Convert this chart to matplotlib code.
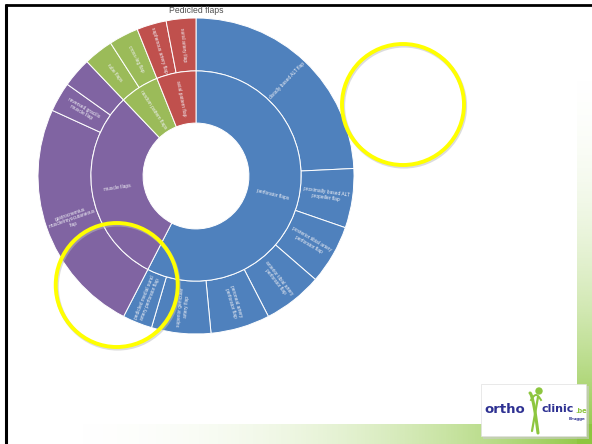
import numpy as np
import matplotlib
matplotlib.use("Agg")
import matplotlib.pyplot as plt
from matplotlib.patches import Ellipse, Rectangle, Circle

# ---------------- data ----------------
inner_labels = ["perforator flaps", "muscle flaps", "random pattern flaps", "axial pattern flap"]
inner_colors = ["#4F81BD", "#8064A2", "#9BBB59", "#C0504D"]

outer_labels = [
    "distally based ALT flap",
    "proximally based ALT\npropeller flap",
    "posterior tibial artery\nperforator flap",
    "anterior tibial artery\nperforator flap",
    "peroneal artery\nperforator flap",
    "superior genicular\nartery flap",
    "pedicled medial sural\nartery perforator flap",
    "gastrocnemius\nmuscle/myocutaneous\nflap",
    "reversed gracilis\nmuscle flap",
    "",
    "tube flaps",
    "cross-leg flap",
    "saphenous artery flap",
    "sural artery flap",
]
outer_values = [8, 2, 2, 2, 2, 2, 1, 8, 1, 1, 1, 1, 1, 1]
outer_parent = [0, 0, 0, 0, 0, 0, 0, 1, 1, 1, 2, 2, 3, 3]

inner_values = [sum(v for v, p in zip(outer_values, outer_parent) if p == i)
                for i in range(len(inner_labels))]
outer_colors = [inner_colors[p] for p in outer_parent]

title = "Pedicled flaps"

# ---------------- figure ----------------
W, H = 592, 444
fig = plt.figure(figsize=(W / 100, H / 100), dpi=100)
fig.patch.set_facecolor("white")

bg = fig.add_axes([0, 0, 1, 1], zorder=0)
bg.set_xlim(0, W)
bg.set_ylim(H, 0)
bg.axis("off")

# green gradients (slide decoration)
green = np.array([141, 198, 63]) / 255.0
ny = 400
a = np.linspace(0, 1, ny) ** 2.2
img = np.zeros((ny, 1, 4))
img[..., :3] = green
img[:, 0, 3] = a
bg.imshow(img, extent=(577, 592, 444, 50), aspect="auto", zorder=1,
          interpolation="bilinear")
nx = 600
a = np.linspace(0, 1, nx) ** 2.5
img = np.zeros((1, nx, 4))
img[..., :3] = green
img[0, :, 3] = a
bg.imshow(img, extent=(20, 592, 444, 424), aspect="auto", zorder=1,
          interpolation="bilinear")

# black slide border
bg.plot([5, 592], [5, 5], color="black", lw=2.0, solid_capstyle="butt", zorder=2)
bg.plot([5.5, 5.5], [4, 444], color="black", lw=2.2, solid_capstyle="butt", zorder=2)

# title
bg.text(196.5, 10.5, title, ha="center", va="center", fontsize=6.2,
        color="#505050", family="Liberation Sans")

# ---------------- sunburst ----------------
cx, cy, R = 196, 176, 158
ax = fig.add_axes([(cx - R) / W, (H - cy - R) / H, 2 * R / W, 2 * R / H], zorder=1)

r_hole, r_mid, r_out = 0.335, 0.665, 1.0
wout, _ = ax.pie(outer_values, radius=r_out, colors=outer_colors, startangle=90,
                 counterclock=False,
                 wedgeprops=dict(width=r_out - r_mid, edgecolor="white", linewidth=0.7))
win, _ = ax.pie(inner_values, radius=r_mid, colors=inner_colors, startangle=90,
                counterclock=False,
                wedgeprops=dict(width=r_mid - r_hole, edgecolor="white", linewidth=0.7))
ax.set_xlim(-1, 1)
ax.set_ylim(-1, 1)
ax.set_aspect("equal")
ax.axis("off")


def put_labels(wedges, labels, rmid):
    for w, lab in zip(wedges, labels):
        if not lab:
            continue
        phi = 0.5 * (w.theta1 + w.theta2)
        phi_r = np.deg2rad(phi)
        x, y = rmid * np.cos(phi_r), rmid * np.sin(phi_r)
        rot = (phi + 180) % 360 - 180
        if rot > 90:
            rot -= 180
        elif rot < -90:
            rot += 180
        ax.text(x, y, lab, ha="center", va="center", rotation=rot,
                rotation_mode="anchor", fontsize=3.5, color="#F0F0F5",
                family="Liberation Sans", linespacing=1.1, multialignment="center")


put_labels(wout, outer_labels, (r_mid + r_out) / 2)
put_labels(win, inner_labels, (r_hole + r_mid) / 2)

# ---------------- overlay: annotations and logo ----------------
ov = fig.add_axes([0, 0, 1, 1], zorder=3)
ov.set_xlim(0, W)
ov.set_ylim(H, 0)
ov.axis("off")
ov.patch.set_alpha(0)

for (ex, ey, rw, rh) in [(403, 104.5, 122, 121), (116.7, 285, 122, 124)]:
    ov.add_patch(Ellipse((ex + 1, ey + 1.5), rw, rh, fill=False, lw=3.0,
                         edgecolor="#bbbbbb", alpha=0.5))
    ov.add_patch(Ellipse((ex, ey), rw, rh, fill=False, lw=2.8, edgecolor="#FFFF00"))

# logo box
ov.add_patch(Rectangle((483, 386), 106, 53, facecolor="#cccccc", edgecolor="none", alpha=0.6))
ov.add_patch(Rectangle((481, 384), 105, 52, facecolor="white", edgecolor="#e0e0e0", lw=0.5))
t = np.linspace(0, 1, 30)
ov.plot(530 + 8 * t, 393 + 40 * t ** 1.6, color="#8DC63F", lw=2.2, solid_capstyle="round")
ov.plot(538 - 6 * t, 397 + 34 * t, color="#8DC63F", lw=1.6, solid_capstyle="round")
ov.plot(531 + 10 * t, 400 - 5 * np.sin(np.pi * t), color="#8DC63F", lw=1.4)
ov.add_patch(Circle((539, 391), 3.0, color="#8DC63F"))
ov.text(484, 409, "ortho", fontsize=9.5, fontweight="bold", color="#2E3192",
        family="DejaVu Sans", va="center", ha="left")
ov.text(541, 409, "clinic", fontsize=8.0, fontweight="bold", color="#2E3192",
        family="DejaVu Sans", va="center", ha="left")
ov.text(575, 411, ".be", fontsize=4.8, fontweight="bold", color="#8DC63F",
        family="DejaVu Sans", va="center", ha="left")
ov.text(585, 419, "Brugge", fontsize=3.0, fontweight="bold", color="#2E3192",
        family="DejaVu Sans", va="center", ha="right")

fig.savefig("out.png", dpi=100)
